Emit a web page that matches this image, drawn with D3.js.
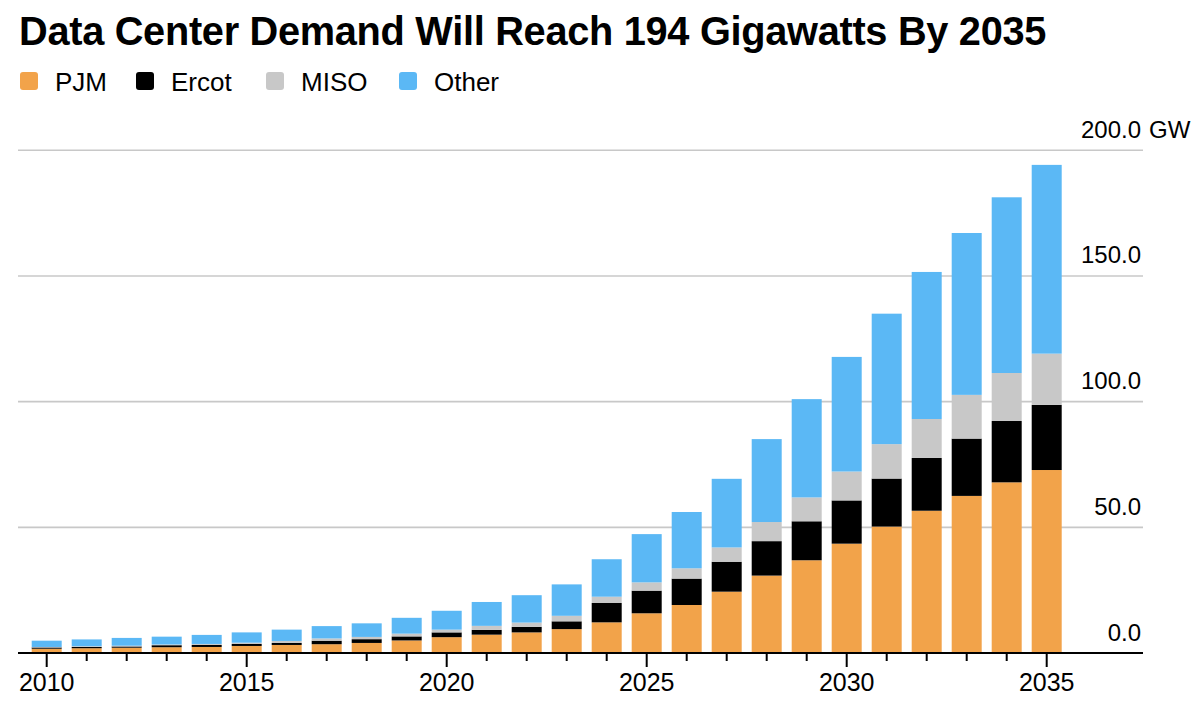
<!DOCTYPE html>
<html>
<head>
<meta charset="utf-8">
<script src="https://cdn.jsdelivr.net/npm/d3@7"></script>
<style>
  body { margin: 0; background: #fff; }
  text { font-family: "Liberation Sans", Arial, Helvetica, sans-serif; fill: #000; }
</style>
</head>
<body>
<svg id="chart" width="1199" height="708"></svg>
<script>
// ---- Data (GW) ----
const years = [2010, 2011, 2012, 2013, 2014, 2015, 2016, 2017, 2018, 2019, 2020, 2021, 2022,
               2023, 2024, 2025, 2026, 2027, 2028, 2029, 2030, 2031, 2032, 2033, 2034, 2035];
const pjm   = [1.7, 1.9, 2.1, 2.3, 2.4, 2.8, 3.2, 3.5, 4.0, 5.0, 6.3, 7.3, 8.2,
               9.5, 12.2, 15.8, 19.1, 24.4, 30.8, 36.9, 43.5, 50.3, 56.6, 62.5, 67.9, 72.8];
const ercot = [0.5, 0.5, 0.5, 0.8, 0.8, 0.8, 0.8, 1.4, 1.5, 1.6, 1.9, 1.9, 2.2,
               3.1, 7.7, 9.0, 10.5, 11.9, 13.7, 15.5, 17.2, 19.1, 21.0, 22.8, 24.4, 25.9];
const miso  = [0.2, 0.3, 0.3, 0.3, 0.4, 0.5, 0.8, 0.9, 0.9, 1.1, 1.1, 1.6, 1.7,
               2.2, 2.5, 3.3, 4.1, 5.7, 7.6, 9.5, 11.5, 13.7, 15.5, 17.4, 19.1, 20.4];
const other = [2.5, 2.7, 3.1, 3.1, 3.6, 4.1, 4.5, 4.9, 5.4, 6.3, 7.5, 9.5, 10.9,
               12.5, 14.9, 19.2, 22.4, 27.3, 33.0, 39.1, 45.6, 51.9, 58.5, 64.4, 69.9, 75.1];

const seriesNames = ["PJM", "Ercot", "MISO", "Other"];
const seriesColors = ["#F2A34A", "#000000", "#C8C8C8", "#5BB8F5"];
const yTickValues = [0, 50, 100, 150, 200];
const xLabelYears = [2010, 2015, 2020, 2025, 2030, 2035];
const titleText = "Data Center Demand Will Reach 194 Gigawatts By 2035";
const unitLabel = "GW";

// ---- Build table ----
const seriesValues = { PJM: pjm, Ercot: ercot, MISO: miso, Other: other };
const rows = years.map((yr, i) => {
  const r = { year: yr };
  seriesNames.forEach(k => r[k] = seriesValues[k][i]);
  return r;
});
const stacked = d3.stack().keys(seriesNames)(rows);

const svg = d3.select("#chart");

// ---- Scales ----
const plotLeft = 18, plotRight = 1143;
const x = d3.scaleBand().domain(years).range([26.7, 1066.7]).paddingInner(0.25).paddingOuter(0.125);
const y = d3.scaleLinear().domain([0, 200]).range([653, 150.3]);
const color = d3.scaleOrdinal().domain(seriesNames).range(seriesColors);

// ---- Title ----
const title = svg.append("text")
  .attr("x", 19).attr("y", 45)
  .style("font-weight", "bold")
  .style("font-size", "33px")
  .style("letter-spacing", "-0.3px")
  .text(titleText);
const targetW = 1024;
const w0 = title.node().getComputedTextLength();
title.style("font-size", (33 * targetW / w0).toFixed(2) + "px");

// ---- Legend ----
const legendX = [20, 136, 266, 399];
const legend = svg.append("g");
seriesNames.forEach((name, i) => {
  const g = legend.append("g").attr("transform", `translate(${legendX[i]},72)`);
  g.append("rect").attr("width", 18).attr("height", 18).attr("rx", 3)
    .attr("fill", color(name));
  g.append("text").attr("x", 35).attr("y", 18.5)
    .style("font-size", "26px").text(name);
});

// ---- Gridlines ----
svg.append("g").selectAll("line")
  .data(yTickValues.filter(v => v > 0))
  .join("line")
  .attr("x1", plotLeft).attr("x2", plotRight)
  .attr("y1", d => y(d)).attr("y2", d => y(d))
  .attr("stroke", "#c8c8c8").attr("stroke-width", 1.6);

// ---- Bars ----
svg.append("g").selectAll("g")
  .data(stacked)
  .join("g")
  .attr("fill", d => color(d.key))
  .selectAll("rect")
  .data(d => d)
  .join("rect")
  .attr("x", d => x(d.data.year))
  .attr("width", x.bandwidth())
  .attr("y", d => y(d[1]))
  .attr("height", d => y(d[0]) - y(d[1]));

// ---- Y labels ----
const yLab = svg.append("g");
yLab.selectAll("text")
  .data(yTickValues)
  .join("text")
  .attr("x", 1141)
  .attr("y", d => y(d) - 12.5)
  .attr("text-anchor", "end")
  .style("font-size", "24px")
  .text(d => d3.format(".1f")(d));
yLab.append("text")
  .attr("x", 1149)
  .attr("y", y(200) - 12.5)
  .style("font-size", "24px")
  .text(unitLabel);

// ---- X axis ----
const xAxis = d3.axisBottom(x)
  .tickSizeOuter(0)
  .tickSize(8)
  .tickPadding(10)
  .tickFormat(d => xLabelYears.includes(d) ? String(d) : "");
const gx = svg.append("g").attr("transform", `translate(0,${y(0)})`).call(xAxis);
gx.select(".domain").remove();
gx.selectAll(".tick line")
  .attr("stroke", "#000").attr("stroke-width", 2)
  .attr("y2", d => xLabelYears.includes(d) ? 14 : 8);
gx.selectAll(".tick text")
  .attr("y", 20)
  .attr("dy", "0.71em")
  .style("font-size", "25px")
  .style("font-family", "\"Liberation Sans\", Arial, Helvetica, sans-serif")
  .attr("fill", "#000");

// ---- Baseline ----
svg.append("line")
  .attr("x1", plotLeft).attr("x2", plotRight)
  .attr("y1", y(0)).attr("y2", y(0))
  .attr("stroke", "#000").attr("stroke-width", 2);
</script>
</body>
</html>
